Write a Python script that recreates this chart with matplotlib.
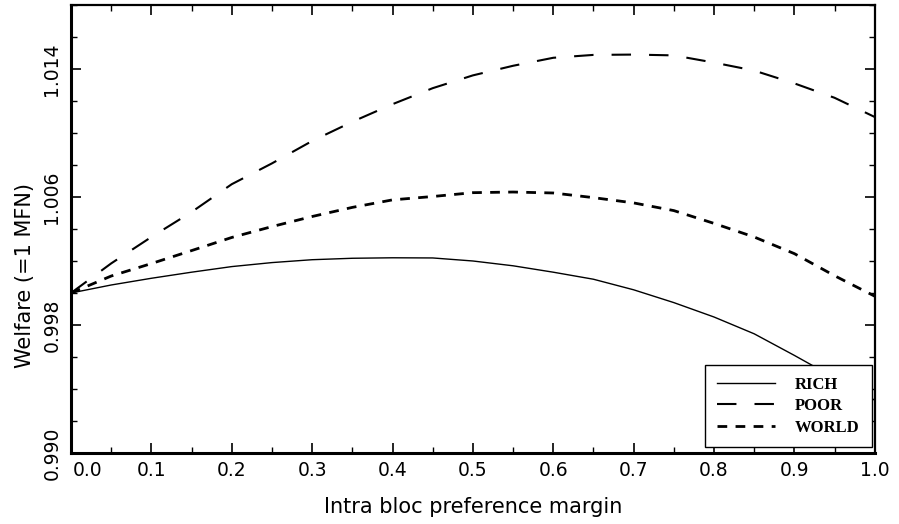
import numpy as np
import matplotlib
matplotlib.use("Agg")
import matplotlib.pyplot as plt
from matplotlib.ticker import MultipleLocator, FixedLocator
import matplotlib.transforms as mtransforms

plt.rcParams['lines.scale_dashes'] = False

# preference margin
margin = [0.00, 0.05, 0.10, 0.15, 0.20, 0.25, 0.30, 0.35, 0.40, 0.45, 0.50,
          0.55, 0.60, 0.65, 0.70, 0.75, 0.80, 0.85, 0.90, 0.95, 1.00]

# welfare relative to MFN
rich = [1.0000, 1.0005, 1.00092, 1.0013, 1.00165, 1.0019, 1.00208, 1.00217, 1.0022, 1.00219, 1.0020,
        1.0017, 1.0013, 1.00086, 1.0002, 0.9994, 0.9985, 0.99745, 0.9961, 0.9947, 0.9933]
poor = [1.0000, 1.00185, 1.0035, 1.00506, 1.0068, 1.0081, 1.0095, 1.0107, 1.0118, 1.0128, 1.0136,
        1.0142, 1.0147, 1.01488, 1.0149, 1.01485, 1.0144, 1.0139, 1.0131, 1.0122, 1.0110]
world = [1.0000, 1.00106, 1.00184, 1.00265, 1.00347, 1.00415, 1.00478, 1.00535, 1.00582, 1.00603, 1.00627,
         1.00631, 1.00625, 1.00596, 1.00563, 1.00515, 1.00435, 1.0035, 1.00246, 1.00108, 0.9998]

xticks = [0.0, 0.1, 0.2, 0.3, 0.4, 0.5, 0.6, 0.7, 0.8, 0.9, 1.0]
yticks = [0.990, 0.998, 1.006, 1.014]

fig = plt.figure(figsize=(8.99, 5.24), dpi=100)
ax = fig.add_axes([0.079, 0.1355, 0.894, 0.855])

ax.plot(margin, rich, color='black', lw=1.0, label='RICH')
ax.plot(margin, poor, color='black', lw=1.5, dashes=(14, 13), label='POOR')
ax.plot(margin, world, color='black', lw=2.0, dashes=(7, 6), label='WORLD')

ax.set_xlim(0, 1.0)
ax.set_ylim(0.990, 1.018)

ax.xaxis.set_major_locator(FixedLocator(xticks))
ax.xaxis.set_minor_locator(MultipleLocator(0.05))
ax.yaxis.set_major_locator(FixedLocator(yticks))
ax.yaxis.set_minor_locator(MultipleLocator(0.002))
ax.set_xticklabels(['%.1f' % t for t in xticks])
ax.set_yticklabels(['%.3f' % t for t in yticks], rotation=90, va='center')

ax.tick_params(which='both', direction='in', top=True, right=True,
               labelsize=13.5, colors='black')
ax.tick_params(which='major', length=7, width=1.2, pad=6)
ax.tick_params(which='minor', length=4, width=1.0)
ax.tick_params(axis='y', which='major', pad=7)

# shift first x label away from the y labels
lab0 = ax.get_xticklabels()[0]
lab0.set_transform(lab0.get_transform() +
                   mtransforms.ScaledTranslation(0.17, 0, fig.dpi_scale_trans))

for side in ['left', 'bottom']:
    ax.spines[side].set_linewidth(2.2)
for side in ['top', 'right']:
    ax.spines[side].set_linewidth(1.6)

ax.set_xlabel('Intra bloc preference margin', fontsize=15, labelpad=12)
ax.set_ylabel('Welfare (=1 MFN)', fontsize=15)
ax.yaxis.set_label_coords(-0.045, 0.397)

leg = ax.legend(loc='lower right', bbox_to_anchor=(0.996, 0.013),
                fancybox=False, framealpha=1, edgecolor='black',
                handlelength=3.5, handletextpad=1.2, borderpad=0.7,
                labelspacing=0.33, borderaxespad=0,
                prop={'family': 'Liberation Serif', 'weight': 'bold', 'size': 12})
leg.get_frame().set_linewidth(1.0)

fig.savefig('out.png', dpi=100)
